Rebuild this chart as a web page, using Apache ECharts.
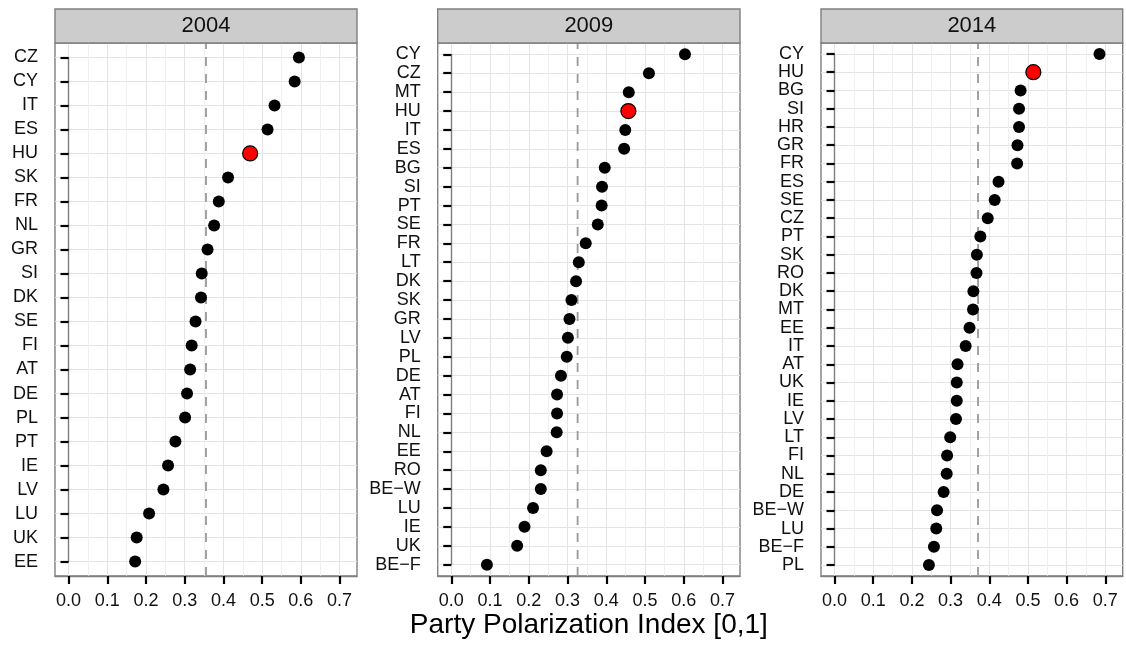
<!DOCTYPE html>
<html>
<head>
<meta charset="utf-8">
<script src="https://cdn.jsdelivr.net/npm/echarts@6/dist/echarts.min.js"></script>
<style>
  html, body { margin: 0; padding: 0; background: #ffffff; }
  #chart { width: 1126px; height: 646px; }
</style>
</head>
<body>
<div id="chart"></div>
<script>
// ---------- data ----------
const years = ['2004', '2009', '2014'];

const cats2004 = ['CZ','CY','IT','ES','HU','SK','FR','NL','GR','SI','DK','SE','FI','AT','DE','PL','PT','IE','LV','LU','UK','EE'];
const vals2004 = [0.595,0.584,0.532,0.514,0.469,0.412,0.388,0.376,0.359,0.344,0.342,0.328,0.318,0.314,0.306,0.301,0.276,0.257,0.245,0.208,0.176,0.172];

const cats2009 = ['CY','CZ','MT','HU','IT','ES','BG','SI','PT','SE','FR','LT','DK','SK','GR','LV','PL','DE','AT','FI','NL','EE','RO','BE\u2212W','LU','IE','UK','BE\u2212F'];
const vals2009 = [0.603,0.510,0.458,0.457,0.449,0.446,0.396,0.389,0.388,0.378,0.347,0.329,0.322,0.310,0.305,0.301,0.298,0.283,0.273,0.273,0.272,0.246,0.231,0.231,0.211,0.189,0.170,0.092];

const cats2014 = ['CY','HU','BG','SI','HR','GR','FR','ES','SE','CZ','PT','SK','RO','DK','MT','EE','IT','AT','UK','IE','LV','LT','FI','NL','DE','BE\u2212W','LU','BE\u2212F','PL'];
const vals2014 = [0.685,0.514,0.481,0.477,0.477,0.473,0.472,0.424,0.414,0.396,0.377,0.368,0.367,0.359,0.358,0.349,0.339,0.318,0.316,0.316,0.314,0.299,0.291,0.290,0.282,0.265,0.263,0.257,0.244];

const meanLines = [0.355, 0.326, 0.371];
const highlight = 'HU';

const xTicks = [0.0, 0.1, 0.2, 0.3, 0.4, 0.5, 0.6, 0.7];
const xMinorTicks = [0.05, 0.15, 0.25, 0.35, 0.45, 0.55, 0.65];
const axisTitle = 'Party Polarization Index [0,1]';

// ---------- layout ----------
const FONT = '"Liberation Sans", Arial, Helvetica, sans-serif';
const panels = [
  { left: 55,    right: 357 },
  { left: 437.7, right: 740 },
  { left: 821,   right: 1122.7 }
];
const plotTop = 43, plotBottom = 576;
const stripTop = 9;
const xMin = -0.035, xMax = 0.745;
const catsList = [cats2004, cats2009, cats2014];
const valsList = [vals2004, vals2009, vals2014];

const grid = [], xAxis = [], yAxis = [], series = [], graphic = [];
const tickStyle = { color: '#000000', width: 2.2 };

panels.forEach((p, i) => {
  const cats = catsList[i];
  const vals = valsList[i];
  const n = cats.length;
  const W = p.right - p.left;
  const H = plotBottom - plotTop;
  const band = H / (n + 0.2);

  // frame grid
  const fg = grid.length;
  grid.push({ left: p.left, top: plotTop, width: W, height: H, show: true,
              backgroundColor: '#ffffff', borderColor: '#7f7f7f', borderWidth: 1.4, containLabel: false });
  // inner grid (categories)
  const ig = grid.length;
  grid.push({ left: p.left, top: plotTop + 0.6 * band, width: W, height: H - 1.2 * band, show: false, containLabel: false });

  // frame x axis (minor grid lines)
  xAxis.push({ type: 'value', gridIndex: fg, min: xMin, max: xMax, position: 'bottom',
    axisLine: { show: false }, axisLabel: { show: false },
    axisTick: { show: false, customValues: xMinorTicks },
    splitLine: { show: true, lineStyle: { color: '#f0f0f0', width: 1 } } });
  // frame x axis (major)
  const xMajorIdx = xAxis.length;
  xAxis.push({ type: 'value', gridIndex: fg, min: xMin, max: xMax, position: 'bottom',
    axisLine: { show: true, lineStyle: { color: '#7f7f7f', width: 1.4 } },
    axisTick: { show: true, length: 8, inside: false, customValues: xTicks, lineStyle: tickStyle },
    axisLabel: { show: true, customValues: xTicks, margin: 16, fontSize: 18, color: '#111111', fontFamily: FONT,
                 formatter: v => Number(v).toFixed(1) },
    splitLine: { show: true, lineStyle: { color: '#e4e4e4', width: 1 } } });
  // inner x axis
  const xInnerIdx = xAxis.length;
  xAxis.push({ type: 'value', gridIndex: ig, min: xMin, max: xMax, show: false,
    splitLine: { show: false } });

  // frame y axis (0..1) for the reference line
  const yFrameIdx = yAxis.length;
  yAxis.push({ type: 'value', gridIndex: fg, min: 0, max: 1, show: false, splitLine: { show: false } });
  // inner y axis (categories)
  const yInnerIdx = yAxis.length;
  yAxis.push({ type: 'category', gridIndex: ig, data: cats, inverse: true, boundaryGap: false,
    axisLine: { show: true, lineStyle: { color: '#7f7f7f', width: 1.4 } },
    axisTick: { show: true, length: 8, inside: false, interval: 0, lineStyle: tickStyle },
    axisLabel: { show: true, interval: 0, margin: 17, fontSize: 18, color: '#111111', fontFamily: FONT },
    splitLine: { show: true, interval: 0, lineStyle: { color: '#e4e4e4', width: 1 } } });

  // reference (dashed) line
  series.push({ type: 'line', xAxisIndex: xMajorIdx, yAxisIndex: yFrameIdx, silent: true, z: 3,
    symbol: 'none', animation: false,
    lineStyle: { color: '#999999', width: 1.8, type: [9, 8] },
    data: [[meanLines[i], 0], [meanLines[i], 1]] });

  // points
  series.push({ type: 'scatter', xAxisIndex: xInnerIdx, yAxisIndex: yInnerIdx, z: 5, animation: false,
    data: cats.map((c, k) => {
      const isH = c === highlight;
      return {
        value: [vals[k], c],
        symbolSize: isH ? 15 : 12,
        itemStyle: isH ? { color: '#ff0000', borderColor: '#000000', borderWidth: 1.2, opacity: 1 }
                       : { color: '#000000', borderWidth: 0, opacity: 1 }
      };
    }) });

  // strip
  graphic.push({ type: 'rect', silent: true, z: 10,
    shape: { x: p.left, y: stripTop, width: W, height: plotTop - stripTop },
    style: { fill: '#cccccc', stroke: '#7f7f7f', lineWidth: 1.4 } });
  graphic.push({ type: 'text', silent: true, z: 11,
    x: p.left + W / 2, y: (stripTop + plotTop) / 2,
    style: { text: years[i], fontSize: 22, fontFamily: FONT, fill: '#111111', align: 'center', verticalAlign: 'middle' } });
});

// axis title
graphic.push({ type: 'text', silent: true, z: 11,
  x: (panels[0].left + panels[2].right) / 2, y: 625,
  style: { text: axisTitle, fontSize: 28, fontFamily: FONT, fill: '#000000', align: 'center', verticalAlign: 'middle' } });

const chart = echarts.init(document.getElementById('chart'), null, { renderer: 'canvas' });
chart.setOption({
  animation: false,
  backgroundColor: '#ffffff',
  grid, xAxis, yAxis, series, graphic
});
</script>
</body>
</html>
